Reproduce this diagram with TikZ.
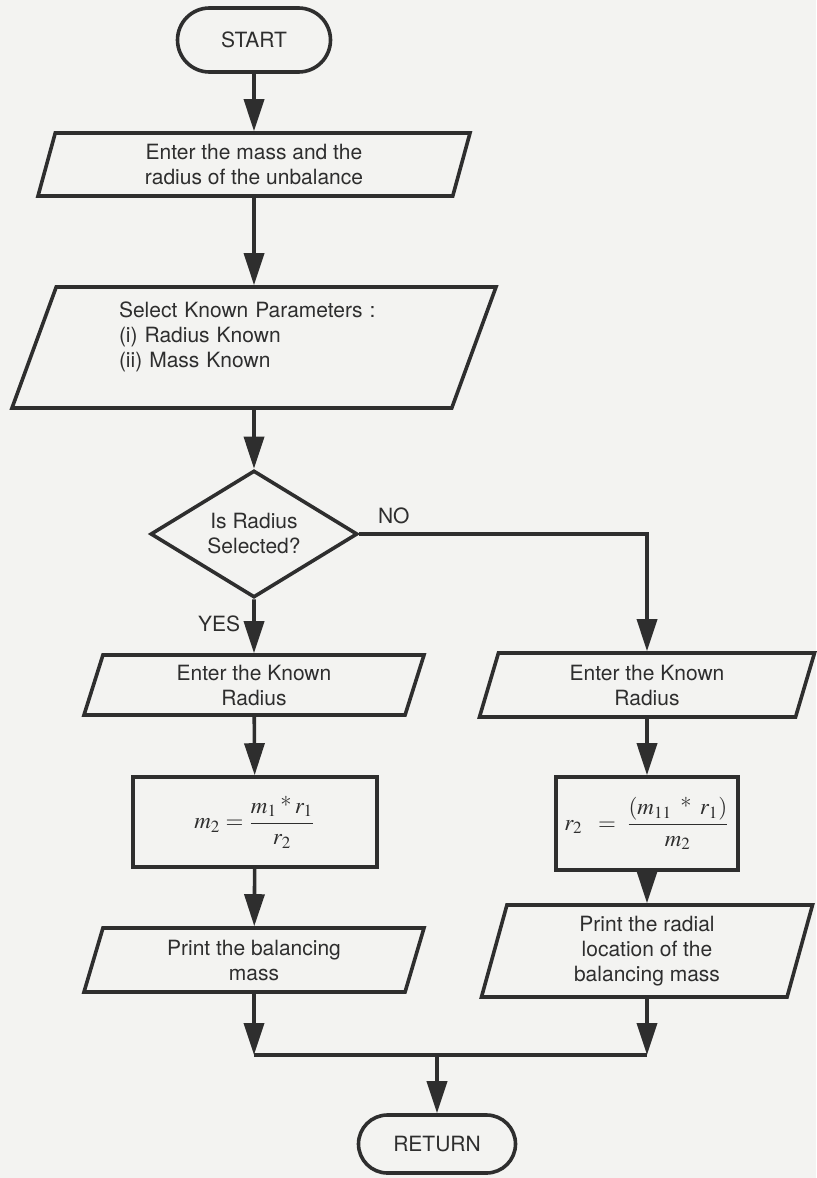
\documentclass[tikz,border=0pt]{standalone}
\usepackage{mathptmx}
\usepackage{fontspec}
\setsansfont{TeX Gyre Heros}
\usetikzlibrary{shapes.geometric}
\usetikzlibrary{arrows.meta}
\definecolor{ink}{HTML}{2E2E2E}
\definecolor{paper}{HTML}{F3F3F1}

\begin{document}
\begin{tikzpicture}[
    x=0.5pt,
    y=-0.5pt,
    color=ink,
    line width=1.8pt,
    font=\sffamily\fontsize{10.5}{12.5}\selectfont,
    term/.style={draw, rectangle, inner sep=0pt},
    io/.style={draw, trapezium, trapezium stretches body, inner sep=0pt, align=center},
    proc/.style={draw, rectangle, inner sep=0pt, font=\fontsize{11.5}{13}\selectfont},
    test/.style={draw, diamond, inner sep=0pt, align=center},
    flow/.style={-{Triangle[length=16pt,width=10pt]}}
]
  \fill[paper] (0,0) rectangle (816,1178);

  \node[term, minimum width=76.5pt, minimum height=32pt, rounded corners=16pt] (start) at (254,40) {START};
  \node[io, trapezium left angle=67, trapezium right angle=113, minimum width=216pt, minimum height=31.5pt] (enter) at (254,164.5) {Enter the mass and the\\radius of the unbalance};
  \node[io, align=left, text width=135pt, trapezium left angle=64, trapezium right angle=116, minimum width=242pt, minimum height=60.5pt] (select) at (254,347.5) {Select Known Parameters :\\(i) Radius Known\\(ii) Mass Known\\ ~};
  \node[test, aspect=1.63, minimum width=103.5pt, minimum height=63.5pt] (radius) at (254,534) {Is Radius\\Selected?};

  \node[io, trapezium left angle=65, trapezium right angle=115, minimum width=170pt, minimum height=30pt] (knownl) at (254,685) {Enter the Known\\Radius};
  \node[io, trapezium left angle=65, trapezium right angle=115, minimum width=167.5pt, minimum height=32pt] (knownr) at (647,685) {Enter the Known\\Radius};

  \node[proc, minimum width=122pt, minimum height=45pt] (mass) at (255,822) {$\displaystyle m_2=\frac{m_1\mathbin{\mbox{\rmfamily *}}r_1}{r_2}$};
  \node[proc, minimum width=91pt, minimum height=46.5pt] (rad) at (647,823.5) {$\displaystyle r_2\;\;=\;\frac{(m_{11}\;\mathbin{\mbox{\rmfamily *}}\;r_1)}{m_2}$};

  \node[io, trapezium left angle=65, trapezium right angle=115, minimum width=170pt, minimum height=32pt] (printm) at (254,960) {Print the balancing\\mass};
  \node[io, trapezium left angle=70, trapezium right angle=110, minimum width=165.5pt, minimum height=46pt] (printr) at (647,951) {Print the radial\\location of the\\balancing mass};

  \node[term, minimum width=78.5pt, minimum height=29pt, rounded corners=14.5pt] (return) at (437,1144) {RETURN};

  \coordinate (joinl) at (254,1055);
  \coordinate (joinr) at (647,1055);
  \coordinate (join) at (437,1055);

  \draw[flow] (start) -- (enter);
  \draw[flow] (enter) -- (select);
  \draw[flow] (select) -- (radius);
  \draw[flow] (radius) -- node[left, pos=0.45, inner sep=6pt]{YES} (knownl);
  \draw[flow] (radius.east) -| node[above, pos=0.06, inner sep=4pt]{NO} (knownr);
  \draw[flow] (knownl) -- (mass);
  \draw[flow] (knownr) -- (rad);
  \draw[flow] (mass) -- (printm);
  \draw[flow] (rad) -- (printr);
  \draw[flow] (printm) -- (joinl);
  \draw[flow] (printr) -- (joinr);
  \draw (joinl) -- (joinr);
  \draw[flow] (join) -- (return);
\end{tikzpicture}
\end{document}
